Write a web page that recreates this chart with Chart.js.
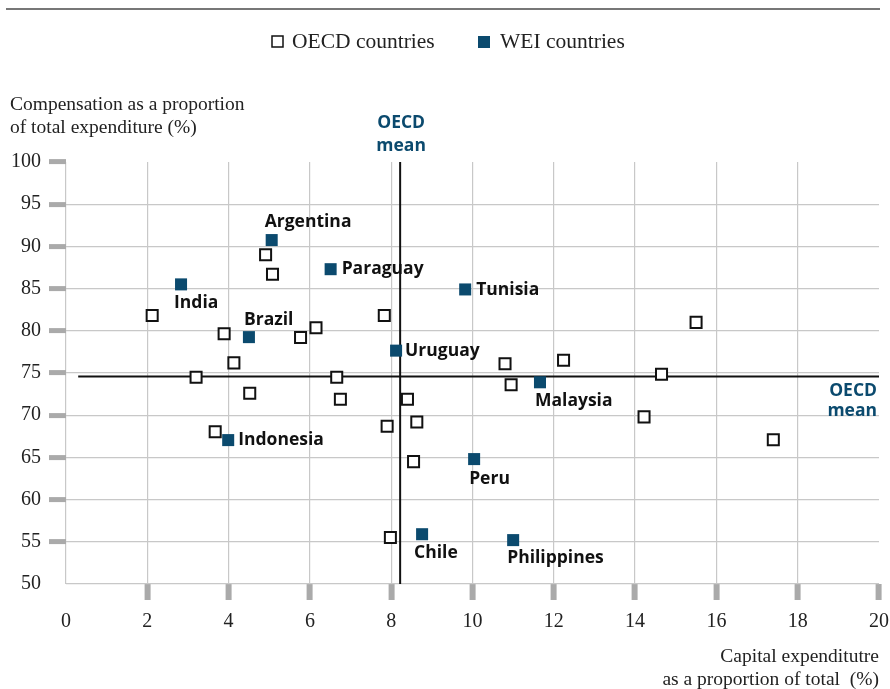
<!DOCTYPE html>
<html>
<head>
<meta charset="utf-8">
<script src="https://cdn.jsdelivr.net/npm/chart.js@4/dist/chart.umd.min.js"></script>
<style>
  html, body { margin: 0; padding: 0; background: #fff; }
  #wrap { width: 890px; height: 689px; }
</style>
</head>
<body>
<div id="wrap"><canvas id="grafico"></canvas></div>
<script>
// OECD countries (open squares)
const oecdX = [2.12, 3.89, 4.13, 3.2, 4.52, 3.67, 5.77, 6.15, 6.66, 6.75, 7.83, 7.9, 8.4, 8.63, 8.55, 7.98, 4.91, 5.08, 10.8, 10.95, 12.24, 14.65, 14.22, 15.5, 17.4];
const oecdY = [81.8, 79.65, 76.2, 74.5, 72.6, 68.05, 79.2, 80.35, 74.5, 71.9, 81.8, 68.7, 71.9, 69.2, 64.5, 55.5, 89.0, 86.7, 76.1, 73.6, 76.5, 74.85, 69.8, 81.0, 67.1];

// WEI countries (filled squares)
const weiNomes = ['Argentina', 'Paraguay', 'India', 'Brazil', 'Tunisia', 'Uruguay', 'Malaysia', 'Indonesia', 'Peru', 'Chile', 'Philippines'];
const weiX = [5.06, 6.51, 2.83, 4.5, 9.82, 8.12, 11.66, 3.99, 10.04, 8.76, 11.0];
const weiY = [90.75, 87.3, 85.5, 79.25, 84.9, 77.65, 73.9, 67.05, 64.8, 55.9, 55.2];

// OECD mean
const mediaX = 8.22;
const mediaY = 74.6;

const xTicks = [0, 2, 4, 6, 8, 10, 12, 14, 16, 18, 20];
const yTicks = [50, 55, 60, 65, 70, 75, 80, 85, 90, 95, 100];

const azul = '#0b4a6e';
const serif = '"Liberation Serif", "Times New Roman", serif';
const sans = '"Open Sans", "DejaVu Sans", sans-serif';

// posição dos rótulos em relação ao marcador (px)
const rotulos = {
    Argentina: [-7, -18], Paraguay: [11, 0], India: [-7, 19], Brazil: [-5, -17],
    Tunisia: [11, 1], Uruguay: [9, 0], Malaysia: [-5, 19], Indonesia: [10, 0],
    Peru: [-5, 20], Chile: [-8, 19], Philippines: [-6, 18]
};

const pontos = (xs, ys) => xs.map((x, i) => ({ x: x, y: ys[i] }));

// Desenha títulos, legenda, linhas da média e nomes dos países.
const extras = {
    id: 'extras',
    beforeDatasetsDraw(chart) {
        const ctx = chart.ctx;
        const sx = chart.scales.x, sy = chart.scales.y;
        ctx.save();
        ctx.strokeStyle = '#111';
        ctx.lineWidth = 2;
        ctx.beginPath();
        ctx.moveTo(sx.getPixelForValue(mediaX), sy.getPixelForValue(100));
        ctx.lineTo(sx.getPixelForValue(mediaX), sy.getPixelForValue(50));
        ctx.moveTo(sx.getPixelForValue(0.3), sy.getPixelForValue(mediaY));
        ctx.lineTo(sx.getPixelForValue(20), sy.getPixelForValue(mediaY));
        ctx.stroke();
        ctx.restore();
    },
    afterDraw(chart) {
        const ctx = chart.ctx;
        const sx = chart.scales.x;
        ctx.save();
        // linha do topo
        ctx.strokeStyle = '#777';
        ctx.lineWidth = 2;
        ctx.beginPath();
        ctx.moveTo(6, 9);
        ctx.lineTo(880, 9);
        ctx.stroke();

        // legenda
        ctx.font = '21.5px ' + serif;
        ctx.textBaseline = 'middle';
        ctx.textAlign = 'left';
        ctx.lineWidth = 1.5;
        ctx.strokeStyle = '#111';
        ctx.fillStyle = '#fff';
        ctx.fillRect(272, 36, 11, 11);
        ctx.strokeRect(272, 36, 11, 11);
        ctx.fillStyle = '#222';
        ctx.fillText('OECD countries', 292, 42);
        ctx.fillStyle = azul;
        ctx.fillRect(478, 36, 12, 12);
        ctx.fillStyle = '#222';
        ctx.fillText('WEI countries', 500, 42);

        // títulos dos eixos
        ctx.font = '19.5px ' + serif;
        ctx.fillText('Compensation as a proportion', 10, 105);
        ctx.fillText('of total expenditure (%)', 10, 128);
        ctx.textAlign = 'right';
        ctx.fillText('Capital expenditutre', 879, 657);
        ctx.fillText('as a proportion of total  (%)', 879, 680);

        // rótulos da média
        ctx.font = 'bold 17.5px ' + sans;
        ctx.fillStyle = azul;
        ctx.textAlign = 'center';
        const mx = sx.getPixelForValue(mediaX);
        ctx.fillText('OECD', mx + 1, 123);
        ctx.fillText('mean', mx + 1, 146);
        ctx.textAlign = 'right';
        ctx.fillText('OECD', 877, 391);
        ctx.fillText('mean', 877, 411);

        // nomes dos países
        ctx.font = 'bold 17.5px ' + sans;
        ctx.fillStyle = '#111';
        ctx.textAlign = 'left';
        weiNomes.forEach((nome, i) => {
            const px = sx.getPixelForValue(weiX[i]);
            const py = chart.scales.y.getPixelForValue(weiY[i]);
            const d = rotulos[nome];
            ctx.fillText(nome, px + d[0], py + d[1]);
        });
        ctx.restore();
    }
};

window.onload = function() {
    const ctx = document.getElementById('grafico').getContext('2d');
    new Chart(ctx, {
        type: 'scatter',
        data: {
            datasets: [{
                label: 'WEI countries',
                data: pontos(weiX, weiY),
                pointStyle: 'rect',
                pointRadius: 8.5,
                pointHoverRadius: 8.5,
                backgroundColor: azul,
                borderWidth: 0
            }, {
                label: 'OECD countries',
                data: pontos(oecdX, oecdY),
                pointStyle: 'rect',
                pointRadius: 7.8,
                pointHoverRadius: 7.8,
                backgroundColor: '#fff',
                borderColor: '#111',
                borderWidth: 2
            }]
        },
        options: {
            responsive: true,
            maintainAspectRatio: false,
            animation: false,
            layout: { padding: { top: 162, right: 0, left: 0, bottom: 0 } },
            plugins: { legend: { display: false }, tooltip: { enabled: false } },
            scales: {
                x: {
                    type: 'linear', min: 0, max: 20,
                    afterBuildTicks: s => { s.ticks = xTicks.map(v => ({ value: v })); },
                    afterFit: s => { s.height = 105; s.paddingRight = 11; },
                    border: { display: false },
                    grid: {
                        color: c => (c.tick && c.tick.value === 20) ? 'transparent' : '#c8c8c8',
                        lineWidth: 1.2,
                        tickLength: 16,
                        tickWidth: 6,
                        tickColor: c => (c.tick && c.tick.value === 0) ? 'transparent' : '#aaa'
                    },
                    ticks: {
                        padding: 10,
                        color: '#222',
                        font: { family: serif, size: 20 }
                    }
                },
                y: {
                    type: 'linear', min: 50, max: 100,
                    afterBuildTicks: s => { s.ticks = yTicks.map(v => ({ value: v })); },
                    afterFit: s => { s.width = 66; },
                    border: { display: false },
                    grid: {
                        color: c => (c.tick && c.tick.value === 100) ? 'transparent' : '#c8c8c8',
                        lineWidth: 1.2,
                        tickLength: 17,
                        tickWidth: 5,
                        tickColor: c => (c.tick && c.tick.value === 50) ? 'transparent' : '#aaa'
                    },
                    ticks: {
                        padding: 8,
                        color: '#222',
                        font: { family: serif, size: 20 }
                    }
                }
            }
        },
        plugins: [extras]
    });
};
</script>
</body>
</html>
